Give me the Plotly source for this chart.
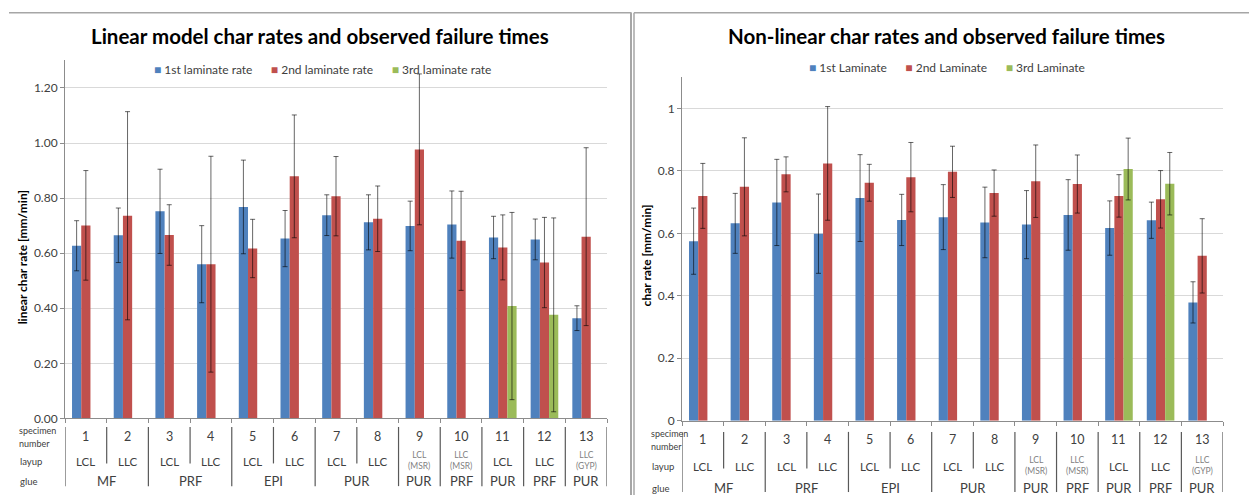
import plotly.graph_objects as go

# ---------------------------------------------------------------- data
specimens = [1, 2, 3, 4, 5, 6, 7, 8, 9, 10, 11, 12, 13]
layup = ["LCL", "LLC", "LCL", "LLC", "LCL", "LLC", "LCL", "LLC", "LCL", "LLC", "LCL", "LLC", "LLC"]
layup_note = ["", "", "", "", "", "", "", "", "(MSR)", "(MSR)", "", "", "(GYP)"]
glue_groups = [("MF", 1, 2), ("PRF", 3, 4), ("EPI", 5, 6), ("PUR", 7, 8), ("PUR", 9, 9),
               ("PRF", 10, 10), ("PUR", 11, 11), ("PRF", 12, 12), ("PUR", 13, 13)]

# linear model char rates [mm/min] with error ranges
lin_1st = [0.627, 0.665, 0.752, 0.560, 0.768, 0.653, 0.738, 0.712, 0.699, 0.704, 0.657, 0.650, 0.364]
lin_1st_err = [0.091, 0.099, 0.153, 0.140, 0.170, 0.102, 0.074, 0.100, 0.090, 0.122, 0.077, 0.074, 0.045]
lin_2nd = [0.701, 0.736, 0.666, 0.560, 0.617, 0.879, 0.807, 0.725, 0.977, 0.645, 0.621, 0.566, 0.660]
lin_2nd_err = [0.199, 0.378, 0.110, 0.392, 0.106, 0.223, 0.144, 0.119, 0.274, 0.180, 0.118, 0.164, 0.323]
lin_3rd = [None, None, None, None, None, None, None, None, None, None, 0.408, 0.376, None]
lin_3rd_err = [None, None, None, None, None, None, None, None, None, None, 0.340, 0.352, None]

# non-linear char rates [mm/min] with error ranges
nl_1st = [0.575, 0.632, 0.699, 0.599, 0.713, 0.643, 0.652, 0.635, 0.628, 0.659, 0.617, 0.642, 0.379]
nl_1st_err = [0.106, 0.096, 0.138, 0.127, 0.139, 0.082, 0.104, 0.113, 0.109, 0.113, 0.087, 0.058, 0.066]
nl_2nd = [0.720, 0.749, 0.789, 0.824, 0.762, 0.780, 0.797, 0.729, 0.767, 0.758, 0.720, 0.709, 0.528]
nl_2nd_err = [0.104, 0.157, 0.056, 0.182, 0.059, 0.111, 0.082, 0.074, 0.116, 0.093, 0.068, 0.092, 0.119]
nl_3rd = [None, None, None, None, None, None, None, None, None, None, 0.806, 0.759, None]
nl_3rd_err = [None, None, None, None, None, None, None, None, None, None, 0.099, 0.100, None]

lin_names = ["1st laminate rate", "2nd laminate rate", "3rd laminate rate"]
nl_names = ["1st Laminate", "2nd Laminate", "3rd Laminate"]

# ---------------------------------------------------------------- style
W, H = 1249, 502
FONT = "Lato"
COLORS = ["#4F81BD", "#C0504D", "#9BBB59"]
TXT = "#404040"
AXC = "#8C8C8C"
GRID = "#D9D9D9"


def px_x(x):
    return x / W


def px_y(y):
    return 1 - y / H


fig = go.Figure()


def add_series(values, errors, names, xa, ya):
    for vals, errs, name, col in zip(values, errors, names, COLORS):
        fig.add_trace(go.Bar(
            x=specimens, y=vals, name=name, xaxis=xa, yaxis=ya,
            marker=dict(color=col, line=dict(width=0)),
            error_y=dict(type="data", array=errs, visible=True,
                         color="rgba(0,0,0,0.6)", thickness=1, width=2.5),
            showlegend=False,
        ))


add_series([lin_1st, lin_2nd, lin_3rd], [lin_1st_err, lin_2nd_err, lin_3rd_err], lin_names, "x", "y")
add_series([nl_1st, nl_2nd, nl_3rd], [nl_1st_err, nl_2nd_err, nl_3rd_err], nl_names, "x2", "y2")

# panel geometry (pixels)
L = dict(x0=65, x1=607, y0=424.3, y1=61.3)
R = dict(x0=682, x1=1223, y0=426.7, y1=78.3)

xcommon = dict(range=[0.5, 13.5], tickvals=[i + 0.5 for i in range(0, 14)],
               ticks="outside", ticklen=4, tickcolor=AXC, showticklabels=False,
               showline=True, linecolor=AXC, linewidth=1, showgrid=False, zeroline=False,
               fixedrange=True)
ycommon = dict(showgrid=True, gridcolor=GRID, gridwidth=1, showline=True, linecolor=AXC,
               linewidth=1, ticks="outside", ticklen=4, tickcolor=AXC, zeroline=False,
               tickfont=dict(family=FONT, size=12, color=TXT), dtick=0.2, tick0=0)

fig.update_layout(
    width=W, height=H, autosize=False,
    margin=dict(l=0, r=0, t=0, b=0),
    paper_bgcolor="white", plot_bgcolor="white",
    barmode="group", bargap=0.337, bargroupgap=0,
    font=dict(family=FONT, color=TXT),
    xaxis=dict(domain=[px_x(L["x0"]), px_x(L["x1"])], anchor="y", **xcommon),
    yaxis=dict(domain=[px_y(L["y0"]), px_y(L["y1"])], anchor="x", range=[0, 1.3],
               tickformat=".2f", **ycommon),
    xaxis2=dict(domain=[px_x(R["x0"]), px_x(R["x1"])], anchor="y2", **xcommon),
    yaxis2=dict(domain=[px_y(R["y0"]), px_y(R["y1"])], anchor="x2", range=[0, 1.1],
                **ycommon),
)

ann = []
shapes = []

# titles
ann.append(dict(text="<b>Linear model char rates and observed failure times</b>",
                x=px_x(320), y=px_y(37), xref="paper", yref="paper", showarrow=False,
                xanchor="center", yanchor="middle", font=dict(family=FONT, size=20.5, color="black")))
ann.append(dict(text="<b>Non-linear char rates and observed failure times</b>",
                x=px_x(946), y=px_y(37), xref="paper", yref="paper", showarrow=False,
                xanchor="center", yanchor="middle", font=dict(family=FONT, size=20.5, color="black")))


# legends: coloured squares followed by series names
def legend_text(names):
    gap = "\u00a0" * 6
    parts = [f'<span style="color:{c}">■</span> {n}' for n, c in zip(names, COLORS)]
    return gap.join(parts)


ann.append(dict(text=legend_text(lin_names), x=px_x(322), y=px_y(70), xref="paper", yref="paper",
                showarrow=False, xanchor="center", yanchor="middle",
                font=dict(family=FONT, size=12, color=TXT)))
ann.append(dict(text=legend_text(nl_names), x=px_x(947), y=px_y(68), xref="paper", yref="paper",
                showarrow=False, xanchor="center", yanchor="middle",
                font=dict(family=FONT, size=12, color=TXT)))

# y axis titles
ann.append(dict(text="<b>linear char rate [mm/min]</b>", x=px_x(22), y=px_y(261), xref="paper",
                yref="paper", showarrow=False, textangle=-90, xanchor="center", yanchor="middle",
                font=dict(family=FONT, size=12, color="black")))
ann.append(dict(text="<b>char rate [mm/min]</b>", x=px_x(646), y=px_y(259), xref="paper",
                yref="paper", showarrow=False, textangle=-90, xanchor="center", yanchor="middle",
                font=dict(family=FONT, size=12, color="black")))


# multi-level category labels under each panel
def category_block(xref, x_label_px, rows, lines):
    spec_y, layup_y, glue_y = rows
    full_top, full_bot, short_bot = lines
    # row captions
    ann.append(dict(text="specimen", x=px_x(x_label_px), y=px_y(spec_y), xref="paper",
                    yref="paper", showarrow=False, xanchor="left", yanchor="bottom",
                    borderpad=0, font=dict(family=FONT, size=9, color=TXT)))
    ann.append(dict(text="number", x=px_x(x_label_px), y=px_y(spec_y), xref="paper",
                    yref="paper", showarrow=False, xanchor="left", yanchor="top",
                    borderpad=0, font=dict(family=FONT, size=9, color=TXT)))
    ann.append(dict(text="layup", x=px_x(x_label_px), y=px_y(layup_y), xref="paper",
                    yref="paper", showarrow=False, xanchor="left", yanchor="middle",
                    font=dict(family=FONT, size=9.5, color=TXT)))
    ann.append(dict(text="glue", x=px_x(x_label_px), y=px_y(glue_y), xref="paper",
                    yref="paper", showarrow=False, xanchor="left", yanchor="middle",
                    font=dict(family=FONT, size=9.5, color=TXT)))
    for s, lay, note in zip(specimens, layup, layup_note):
        ann.append(dict(text=str(s), x=s, y=px_y(spec_y), xref=xref, yref="paper",
                        showarrow=False, xanchor="center", yanchor="middle",
                        font=dict(family=FONT, size=12.5, color=TXT)))
        if note:
            ann.append(dict(text=f"{lay}<br>{note}", x=s, y=px_y(layup_y - 1), xref=xref,
                            yref="paper", showarrow=False, xanchor="center", yanchor="middle",
                            font=dict(family=FONT, size=8.5, color="#7F7F7F")))
        else:
            ann.append(dict(text=lay, x=s, y=px_y(layup_y), xref=xref, yref="paper",
                            showarrow=False, xanchor="center", yanchor="middle",
                            font=dict(family=FONT, size=11.5, color=TXT)))
    bounds = {0.5}
    for name, a, b in glue_groups:
        ann.append(dict(text=name, x=(a + b) / 2, y=px_y(glue_y), xref=xref, yref="paper",
                        showarrow=False, xanchor="center", yanchor="middle",
                        font=dict(family=FONT, size=13, color=TXT)))
        bounds.add(b + 0.5)
        for k in range(a, b):
            shapes.append(dict(type="line", xref=xref, yref="paper", x0=k + 0.5, x1=k + 0.5,
                               y0=px_y(full_top), y1=px_y(short_bot),
                               line=dict(color="#595959", width=1.2)))
    for xb in sorted(bounds):
        shapes.append(dict(type="line", xref=xref, yref="paper", x0=xb, x1=xb,
                           y0=px_y(full_top), y1=px_y(full_bot),
                           line=dict(color="#595959", width=1.2)))


category_block("x", 18, (443, 468, 488), (433, 493, 470))
category_block("x2", 650, (446, 473, 495), (438, 499, 475))

# panel frames
frame = dict(color="#A6A6A6", width=1.5)
shapes.append(dict(type="line", xref="paper", yref="paper", x0=px_x(9), x1=px_x(631.5),
                   y0=px_y(13), y1=px_y(13), line=frame))
shapes.append(dict(type="line", xref="paper", yref="paper", x0=px_x(631), x1=px_x(631),
                   y0=px_y(13), y1=0, line=dict(color="#A6A6A6", width=2)))
shapes.append(dict(type="line", xref="paper", yref="paper", x0=px_x(634), x1=px_x(634),
                   y0=px_y(13), y1=0, line=frame))
shapes.append(dict(type="line", xref="paper", yref="paper", x0=px_x(634), x1=1,
                   y0=px_y(13), y1=px_y(13), line=frame))

fig.update_layout(annotations=ann, shapes=shapes)

fig.write_html("out.html")
